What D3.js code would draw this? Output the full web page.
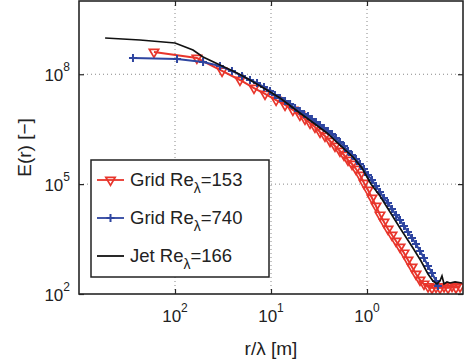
<!DOCTYPE html>
<html>
<head>
<meta charset="utf-8">
<script src="https://cdn.jsdelivr.net/npm/d3@7"></script>
<style>
  body { margin: 0; background: #fff; }
  text { font-family: "Liberation Sans", Arial, Helvetica, sans-serif; fill: #222; }
</style>
</head>
<body>
<svg width="465" height="363"></svg>
<script>
// r/lambda values and E(r)

const gridLowX = [0.00604, 0.0169, 0.0309, 0.0475, 0.0665, 0.0866, 0.113, 0.140, 0.169, 0.200,
  0.226, 0.255, 0.287, 0.324, 0.365, 0.412, 0.464, 0.523, 0.576, 0.634, 0.698, 0.768, 0.845,
  0.931, 1.024, 1.127, 1.241, 1.366, 1.503, 1.655, 1.821, 2.005, 2.207, 2.429, 2.673, 2.943,
  3.239, 3.565, 3.924, 4.32, 4.753, 5.233, 5.76, 6.34, 6.98, 7.68, 8.45, 9.31];
const gridLowE = [4.05e8, 2.78e8, 1.23e8, 6.97e7, 4.21e7, 2.89e7, 1.98e7, 1.45e7, 1.06e7, 7.72e6,
  6.00e6, 4.67e6, 3.63e6, 2.65e6, 2.06e6, 1.50e6, 1.10e6, 8.02e5, 6.24e5, 4.56e5, 3.54e5, 2.59e5, 1.77e5,
  1.07e5, 6.91e4, 4.18e4, 2.53e4, 1.44e4, 9.24e3, 5.95e3, 4.08e3, 2.80e3, 1.92e3, 1.32e3, 848, 546,
  352, 241, 188, 160, 146, 155, 146, 160, 146, 165, 150, 160];

const gridHighX = [0.00365, 0.0105, 0.0196, 0.0294, 0.0392, 0.0499, 0.0604, 0.0715, 0.0845, 0.0976,
  0.110, 0.124, 0.140, 0.158, 0.178, 0.200, 0.221, 0.243, 0.267, 0.294, 0.324, 0.356, 0.392, 0.432,
  0.475, 0.523, 0.576, 0.634, 0.698, 0.768, 0.845, 0.931, 1.024, 1.127, 1.241, 1.366, 1.503, 1.655,
  1.821, 2.005, 2.207, 2.429, 2.673, 2.943, 3.239, 3.565, 3.924, 4.32, 4.753, 5.233, 5.49];
const gridHighE = [2.78e8, 2.61e8, 2.16e8, 1.68e8, 1.23e8, 8.96e7, 6.97e7, 5.77e7, 4.49e7, 3.49e7,
  2.71e7, 2.25e7, 1.86e7, 1.54e7, 1.20e7, 9.92e6, 8.21e6, 7.24e6, 6.00e6, 4.97e6, 4.12e6, 3.41e6, 2.82e6, 2.34e6,
  1.82e6, 1.41e6, 1.10e6, 8.02e5, 6.24e5, 4.85e5, 3.54e5, 2.59e5, 1.77e5, 1.30e5, 8.89e4, 6.10e4, 4.18e4, 3.05e4,
  2.09e4, 1.44e4, 1.05e4, 7.19e3, 4.93e3, 3.38e3, 2.32e3, 1.49e3, 961, 581, 374, 226, 165];

const jetX = [0.00187, 0.00432, 0.01, 0.0154, 0.0196, 0.0294, 0.0443, 0.0604, 0.0908, 0.124,
  0.200, 0.287, 0.383, 0.523, 0.714, 0.887, 1.10, 1.366, 1.738, 2.207, 3.013, 3.652, 4.32, 4.87,
  5.36, 5.75, 6.04, 6.34, 6.81, 7.33, 8.26, 9.77];
const jetE = [9.77e8, 8.61e8, 7.13e8, 4.59e8, 2.96e8, 1.79e8, 1.08e8, 6.97e7, 3.72e7, 2.25e7,
  8.75e6, 4.38e6, 2.49e6, 1.17e6, 5.51e5, 2.75e5, 1.01e5, 4.74e4, 1.73e4, 6.34e3, 1.80e3, 796, 352, 226,
  188, 226, 310, 188, 213, 200, 213, 200];

const xTicks = [0.01, 0.1, 1];
const xTickExp = ["2", "1", "0"];
const yTicks = [1e2, 1e5, 1e8];
const yTickExp = ["2", "5", "8"];

const seriesNames = ["Grid Re", "Grid Re", "Jet Re"];
const seriesRe = ["=153", "=740", "=166"];
const colors = ["#e8352b", "#2e45a0", "#111111"];

const svg = d3.select("svg"),
    margin = {top: 1, right: 2, bottom: 69, left: 79},
    width = +svg.attr("width") - margin.left - margin.right,
    height = +svg.attr("height") - margin.top - margin.bottom,
    g = svg.append("g").attr("transform", "translate(" + margin.left + "," + margin.top + ")");

const x = d3.scaleLog().domain([1e-3, 1e1]).range([0, width]);
const y = d3.scaleLog().domain([1e2, 1e10]).range([height, 0]);

svg.append("defs").append("clipPath").attr("id", "clip")
  .append("rect").attr("width", width).attr("height", height);

// dotted grid
g.append("g").selectAll("line")
  .data(xTicks)
  .enter().append("line")
    .attr("x1", d => x(d)).attr("x2", d => x(d))
    .attr("y1", 0).attr("y2", height)
    .attr("stroke", "#888").attr("stroke-dasharray", "1,3");
g.append("g").selectAll("line")
  .data(yTicks.slice(1))
  .enter().append("line")
    .attr("y1", d => y(d)).attr("y2", d => y(d))
    .attr("x1", 0).attr("x2", width)
    .attr("stroke", "#888").attr("stroke-dasharray", "1,3");

const line = d3.line().x(d => x(d[0])).y(d => y(d[1]));
const triangle = d3.symbol().type(d3.symbolTriangle).size(38);
const plus = "M-4,0H4M0,-4V4";

const series = [
  d3.zip(gridLowX, gridLowE),
  d3.zip(gridHighX, gridHighE),
  d3.zip(jetX, jetE)
];

const plot = g.append("g").attr("clip-path", "url(#clip)");

function drawMarkers(sel, i) {
  if (i === 0) {
    sel.append("path").attr("d", triangle)
      .attr("transform", "rotate(180)")
      .attr("fill", "none").attr("stroke", colors[0]).attr("stroke-width", 1.7);
  } else if (i === 1) {
    sel.append("path").attr("d", plus)
      .attr("fill", "none").attr("stroke", colors[1]).attr("stroke-width", 2);
  }
}

series.forEach(function(data, i) {
  plot.append("path")
    .datum(data)
    .attr("fill", "none")
    .attr("stroke", colors[i])
    .attr("stroke-width", i === 2 ? 1.7 : 2)
    .attr("d", line);
  if (i < 2) {
    plot.append("g").selectAll("g")
      .data(data)
      .enter().append("g")
        .attr("transform", d => "translate(" + x(d[0]) + "," + y(d[1]) + ")")
        .each(function() { drawMarkers(d3.select(this), i); });
  }
});

// axes box, inside ticks on all four sides
g.append("g")
    .attr("transform", "translate(0," + height + ")")
    .call(d3.axisBottom(x).tickValues(xTicks).tickSize(-5).tickFormat(""));
g.append("g")
    .call(d3.axisTop(x).tickValues(xTicks).tickSize(-5).tickFormat(""));
g.append("g")
    .call(d3.axisLeft(y).tickValues(yTicks).tickSize(-5).tickFormat(""));
g.append("g")
    .attr("transform", "translate(" + width + ",0)")
    .call(d3.axisRight(y).tickValues(yTicks).tickSize(-5).tickFormat(""));
g.selectAll(".domain").remove();
g.selectAll(".tick line").attr("stroke", "#262626").attr("stroke-width", 1.2);
g.append("rect")
    .attr("width", width).attr("height", height)
    .attr("fill", "none").attr("stroke", "#262626").attr("stroke-width", 1.6);

// tick labels
const xl = g.append("g").selectAll("text")
  .data(xTicks)
  .enter().append("text")
    .attr("x", d => x(d))
    .attr("y", height + 28)
    .attr("text-anchor", "middle")
    .style("font-size", "17px")
    .text("10");
xl.append("tspan").attr("dy", -10).style("font-size", "12px").text((d, i) => xTickExp[i]);

const yl = g.append("g").selectAll("text")
  .data(yTicks)
  .enter().append("text")
    .attr("x", -9)
    .attr("y", d => y(d) + 7)
    .attr("text-anchor", "end")
    .style("font-size", "17px")
    .text("10");
yl.append("tspan").attr("dy", -10).style("font-size", "12px").text((d, i) => yTickExp[i]);

// axis titles
svg.append("text")
    .attr("x", margin.left + width / 2)
    .attr("y", 355)
    .attr("text-anchor", "middle")
    .style("font-size", "19px")
    .text("r/\u03bb [m]");
svg.append("text")
    .attr("transform", "translate(31," + (margin.top + height / 2) + ") rotate(-90)")
    .attr("text-anchor", "middle")
    .style("font-size", "19px")
    .text("E(r) [\u2212]");

// legend
const legend = svg.append("g").attr("transform", "translate(91,160)");
legend.append("rect")
    .attr("width", 178).attr("height", 117)
    .attr("fill", "#fff").attr("stroke", "#222").attr("stroke-width", 1.5);

const rows = legend.selectAll("g.row")
  .data(seriesNames)
  .enter().append("g")
    .attr("class", "row")
    .attr("transform", (d, i) => "translate(0," + (20 + i * 38) + ")");
rows.append("line")
    .attr("x1", 6).attr("x2", 33)
    .attr("stroke", (d, i) => colors[i])
    .attr("stroke-width", 1.8);
rows.each(function(d, i) {
  const m = d3.select(this).append("g").attr("transform", "translate(19.5,0)");
  drawMarkers(m, i);
});
const lt = rows.append("text")
    .attr("x", 39).attr("y", 6)
    .style("font-size", "18.5px")
    .text(d => d);
lt.append("tspan").attr("dy", 7).style("font-size", "14px").text("\u03bb");
lt.append("tspan").attr("dy", -7).text((d, i) => seriesRe[i]);
</script>
</body>
</html>
